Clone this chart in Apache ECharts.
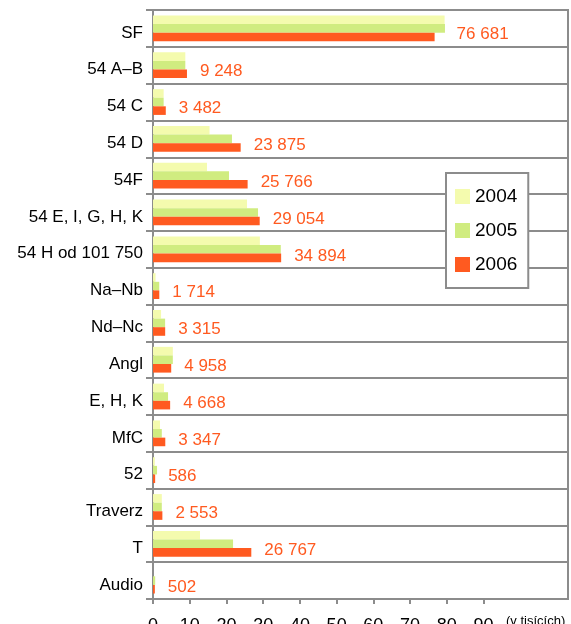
<!DOCTYPE html>
<html>
<head>
<meta charset="utf-8">
<script src="https://cdn.jsdelivr.net/npm/echarts@6/dist/echarts.min.js"></script>
<style>
  html, body { margin: 0; padding: 0; background: #fff; }
  #chart { width: 571px; height: 624px; }
</style>
</head>
<body>
<div id="chart"></div>
<script>
  // hodnoty v tisících
  var categories = ['SF', '54 A–B', '54 C', '54 D', '54F', '54 E, I, G, H, K', '54 H od 101 750',
    'Na–Nb', 'Nd–Nc', 'Angl', 'E, H, K', 'MfC', '52', 'Traverz', 'T', 'Audio'];
  var years = ['2004', '2005', '2006'];
  var values2004 = [79.4, 8.8, 2.9, 15.4, 14.7, 25.6, 29.1, 0.7, 2.2, 5.4, 3.0, 1.9, 0.5, 2.4, 12.8, 0];
  var values2005 = [79.5, 8.8, 2.9, 21.5, 20.7, 28.6, 34.8, 1.7, 3.3, 5.4, 4.1, 2.4, 1.1, 2.4, 21.8, 0.6];
  var values2006 = [76.681, 9.248, 3.482, 23.875, 25.766, 29.054, 34.894, 1.714, 3.315, 4.958, 4.668, 3.347, 0.586, 2.553, 26.767, 0.502];
  var tickValues = [0, 10, 20, 30, 40, 50, 60, 70, 80, 90];

  var colors = ['#F4FBAE', '#D0EC80', '#FF5A20'];
  var font = 'Liberation Sans, Arial, sans-serif';

  function fmt(v) {
    var s = String(Math.round(v * 1000));
    return s.replace(/\B(?=(\d{3})+(?!\d))/g, ' ');
  }

  // SF popisek je v originále posunutý víc doprava
  var data2006 = values2006.map(function (v, i) {
    if (i === 0) return { value: v, label: { offset: [9, -3] } };
    return v;
  });

  var chart = echarts.init(document.getElementById('chart'));

  var option = {
    animation: false,
    color: colors,
    textStyle: { fontFamily: font },
    grid: {
      left: 153, right: 3, top: 10, bottom: 25,
      outerBoundsMode: 'none',
      show: true,
      borderColor: '#8c8c8c',
      borderWidth: 2
    },
    legend: {
      data: years,
      orient: 'vertical',
      left: 446,
      top: 173,
      padding: [14, 11, 14, 9],
      itemWidth: 15,
      itemHeight: 15,
      itemGap: 15,
      icon: 'rect',
      backgroundColor: '#fff',
      borderColor: '#8c8c8c',
      borderWidth: 2,
      textStyle: { fontSize: 19, color: '#000', fontFamily: font }
    },
    xAxis: {
      type: 'value',
      min: 0,
      max: 113,
      interval: 10,
      name: '(v tisících)',
      nameLocation: 'end',
      nameGap: -62,
      nameTextStyle: { fontSize: 13, color: '#000', verticalAlign: 'top', padding: [16, 0, 0, 0] },
      axisLine: { show: true, lineStyle: { color: '#8c8c8c', width: 2 } },
      axisTick: { show: true, length: 5, customValues: tickValues, lineStyle: { color: '#8c8c8c', width: 2 } },
      axisLabel: { customValues: tickValues, fontSize: 18, color: '#000', margin: 18 },
      splitLine: { show: false }
    },
    yAxis: {
      type: 'category',
      data: categories,
      inverse: true,
      axisLine: { show: true, lineStyle: { color: '#8c8c8c', width: 2 } },
      axisTick: { show: true, length: 7, lineStyle: { color: '#8c8c8c', width: 2 } },
      axisLabel: { fontSize: 17, color: '#000', margin: 10, verticalAlign: 'top', lineHeight: 9 },
      splitLine: { show: true, lineStyle: { color: '#8c8c8c', width: 2 } }
    },
    series: [
      {
        name: years[0], type: 'bar', data: values2004,
        barGap: '0%', barCategoryGap: '30%'
      },
      {
        name: years[1], type: 'bar', data: values2005,
        barGap: '0%', barCategoryGap: '30%'
      },
      {
        name: years[2], type: 'bar', data: data2006,
        barGap: '0%', barCategoryGap: '30%',
        label: {
          show: true,
          position: 'right',
          distance: 13,
          offset: [0, -2],
          fontSize: 17,
          color: '#FF5A20',
          formatter: function (p) { return fmt(p.value); }
        }
      }
    ]
  };

  chart.setOption(option);
</script>
</body>
</html>
